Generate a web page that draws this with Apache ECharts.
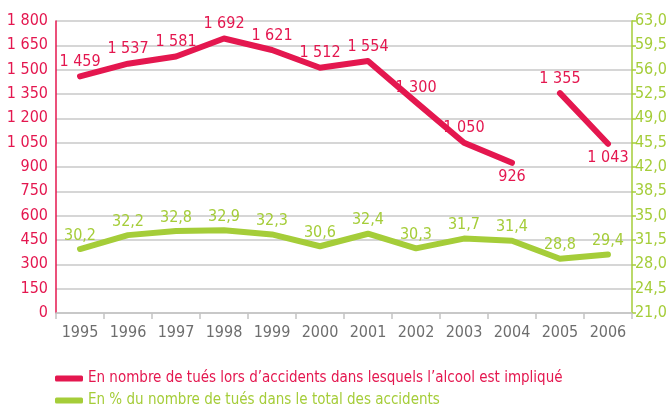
<!DOCTYPE html>
<html><head><meta charset="utf-8">
<script src="https://cdn.jsdelivr.net/npm/echarts@6/dist/echarts.min.js"></script>
<style>html,body{margin:0;padding:0;background:#fff}#c{width:670px;height:404px}</style>
</head><body><div id="c"></div>
<script>
const years = ['1995','1996','1997','1998','1999','2000','2001','2002','2003','2004','2005','2006'];
const killed = [1459,1537,1581,1692,1621,1512,1554,1300,1050,926,1355,1043];
const percent = [30.2,32.2,32.8,32.9,32.3,30.6,32.4,30.3,31.7,31.4,28.8,29.4];
const breakAfter = '2004';
const labelsBelow = ['2004','2006'];
const seriesNames = ["En nombre de tués lors d’accidents dans lesquels l’alcool est impliqué","En % du nombre de tués dans le total des accidents"];

const RED = '#e4174f', GREEN = '#a5cd39';
const FONT = "'Liberation Sans Narrow','DejaVu Sans Condensed',sans-serif";
const fmtK = v => String(v).replace(/\B(?=(\d{3})+(?!\d))/g, ' ');
const fmtP = v => Number(v).toFixed(1).replace('.', ',');
const bi = years.indexOf(breakAfter);
const mk = (from, to) => killed.map((v, i) => (i >= from && i <= to) ? {
  value: v,
  label: labelsBelow.includes(years[i]) ? {position: 'bottom'} : {}
} : '-');

const chart = echarts.init(document.getElementById('c'));
const killedLabel = {show: true, position: 'top', distance: 6, color: RED, fontSize: 16, fontFamily: FONT, formatter: p => fmtK(p.value)};
const lineCommon = {showSymbol: true, symbol: 'circle', symbolSize: 1, itemStyle: {color: 'rgba(0,0,0,0)'}, labelLayout: {hideOverlap: false}};
const legendCommon = {left: 50, itemWidth: 28, itemHeight: 6, icon: 'roundRect', itemGap: 4};
chart.setOption({
  animation: false,
  grid: {left: 56, right: 38, top: 21, bottom: 91},
  legend: [
    Object.assign({top: 366, data: [{name: seriesNames[0], itemStyle: {color: RED, opacity: 1}}], textStyle: {color: RED, fontSize: 15, fontFamily: FONT}}, legendCommon),
    Object.assign({top: 388, data: [{name: seriesNames[1], itemStyle: {color: GREEN, opacity: 1}}], textStyle: {color: GREEN, fontSize: 15, fontFamily: FONT}}, legendCommon)
  ],
  xAxis: {
    type: 'category', data: years, boundaryGap: true,
    axisLine: {show: true, lineStyle: {color: '#c4c4c4', width: 1.5}},
    axisTick: {show: true, length: 6, lineStyle: {color: '#c4c4c4', width: 1.5}},
    axisLabel: {color: '#6e6e6e', fontSize: 16, fontFamily: FONT, margin: 12, interval: 0}
  },
  yAxis: [{
    type: 'value', min: 0, max: 1800, interval: 150,
    axisLine: {show: true, lineStyle: {color: RED, width: 1.5}},
    axisTick: {show: false},
    splitLine: {lineStyle: {color: '#c8c8c8', width: 1.5}},
    axisLabel: {color: RED, fontSize: 16, fontFamily: FONT, margin: 8, formatter: fmtK}
  }, {
    type: 'value', min: 21, max: 63, interval: 3.5, position: 'right',
    axisLine: {show: true, lineStyle: {color: GREEN, width: 1.5}},
    axisTick: {show: true, length: 4, lineStyle: {color: GREEN, width: 1.5}},
    splitLine: {show: false},
    axisLabel: {color: GREEN, fontSize: 16, fontFamily: FONT, margin: 3, formatter: fmtP}
  }],
  series: [Object.assign({
    name: seriesNames[0], type: 'line', yAxisIndex: 0, data: mk(0, bi), color: RED,
    lineStyle: {width: 6, color: RED, cap: 'round', join: 'round'},
    label: killedLabel
  }, lineCommon), Object.assign({
    name: seriesNames[0], type: 'line', yAxisIndex: 0, data: mk(bi + 1, killed.length - 1), color: RED,
    lineStyle: {width: 6, color: RED, cap: 'round', join: 'round'},
    label: killedLabel
  }, lineCommon), Object.assign({
    name: seriesNames[1], type: 'line', yAxisIndex: 1, data: percent, color: GREEN,
    lineStyle: {width: 6, color: GREEN, cap: 'round', join: 'round'},
    label: {show: true, position: 'top', distance: 5, color: GREEN, fontSize: 16, fontFamily: FONT, formatter: p => fmtP(p.value)}
  }, lineCommon)]
});
</script></body></html>
